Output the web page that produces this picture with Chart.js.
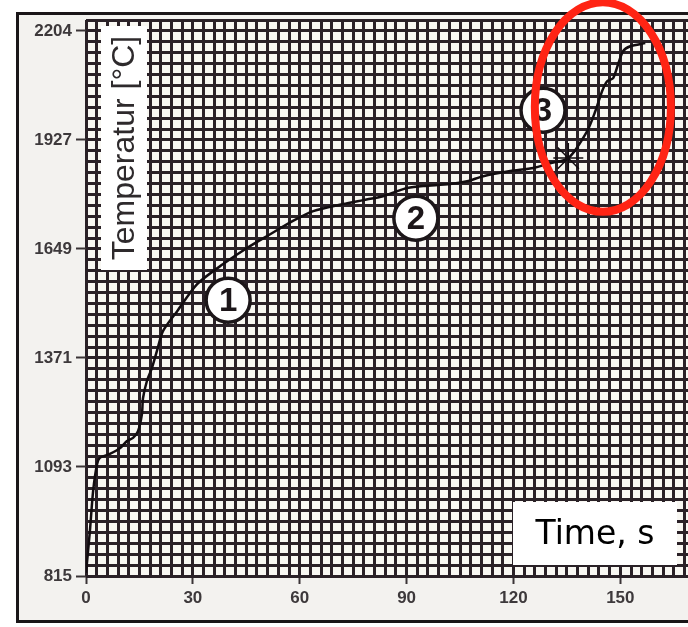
<!DOCTYPE html>
<html>
<head>
<meta charset="utf-8">
<script src="https://cdn.jsdelivr.net/npm/chart.js@4.4.0/dist/chart.umd.min.js"></script>
<style>
    html, body { margin: 0; padding: 0; background: #fff; overflow: hidden; }
    canvas { display: block; }
</style>
</head>
<body>
<canvas id="chart" width="688" height="627"></canvas>
<script>
(function () {
    'use strict';

    // temperature curve (time in s, temperature in °C)
    var timeS = [0, 1.1, 2.0, 3.1, 3.9, 6.7, 9.6, 11.5, 13.2, 14.6, 15.7, 16.0, 17.1, 18.5, 19.9,
        21.6, 25.6, 31.2, 38.5, 45.2, 51.7, 58.1, 63.8, 72.2, 77.8, 83.4, 87.4, 90.2, 94.7,
        102.2, 107.0, 111.5, 119.1, 125.6, 130.3, 135.4, 140.7, 143.0, 144.9, 146.3, 148.0,
        149.4, 150.8, 152.8, 157.0];
    var tempC = [823, 930, 1032, 1100, 1116, 1126, 1141, 1159, 1167, 1184, 1228, 1268, 1312, 1345, 1388,
        1439, 1490, 1559, 1610, 1651, 1686, 1720, 1745, 1763, 1773, 1783, 1796, 1804, 1809,
        1814, 1821, 1834, 1847, 1855, 1867, 1880, 1949, 2000, 2051, 2076, 2084,
        2120, 2153, 2165, 2173];

    // where the hand drawn star crosses the curve
    var starTime = [135.4];
    var starTemp = [1880];

    // numbered stages written on the chart
    var stageLabels = ['1', '2', '3'];
    var stageTime = [39.9, 92.6, 128.3];
    var stageTemp = [1518, 1727, 2002];

    var xTickLabels = [0, 30, 60, 90, 120, 150];
    var yTickLabels = [815, 1093, 1371, 1649, 1927, 2204];

    // graph paper: 10 cells between labelled ticks
    var xMin = 0, xMax = 169, xCell = 3;
    var yMin = 815, yMax = 2232, yCell = (2204 - 815) / 50;

    var ink = '#2a2127';

    function gridTicks(min, max, step) {
        var ticks = [];
        for (var k = 0; min + k * step <= max + 0.01; k++) {
            ticks.push({ value: min + k * step });
        }
        return ticks;
    }

    var paperPlugin = {
        id: 'paper',
        beforeDraw: function (chart) {
            var ctx = chart.ctx;
            var a = chart.chartArea;
            ctx.save();
            ctx.fillStyle = '#ffffff';
            ctx.fillRect(0, 0, chart.width, chart.height);
            ctx.fillStyle = '#f3f2ef';
            ctx.fillRect(17, 13, chart.width, 609);
            ctx.strokeStyle = '#1a1618';
            ctx.lineWidth = 3;
            ctx.beginPath();
            ctx.moveTo(chart.width + 5, 13.5);
            ctx.lineTo(17.5, 13.5);
            ctx.lineTo(17.5, 621.5);
            ctx.lineTo(chart.width + 5, 621.5);
            ctx.stroke();
            ctx.fillStyle = '#f8f7f2';
            ctx.fillRect(a.left, a.top, a.right - a.left, a.bottom - a.top);
            ctx.restore();
        }
    };

    var notesPlugin = {
        id: 'notes',
        afterDatasetsDraw: function (chart) {
            var ctx = chart.ctx;
            var xs = chart.scales.x;
            var ys = chart.scales.y;
            var i, cx, cy;

            ctx.save();

            // axis title box inside the grid
            ctx.fillStyle = '#ffffff';
            ctx.fillRect(101, 26, 46, 244);
            ctx.save();
            ctx.translate(125, 148);
            ctx.rotate(-Math.PI / 2);
            ctx.fillStyle = '#2e2a2c';
            ctx.font = '32px "Liberation Sans", Arial, sans-serif';
            ctx.textAlign = 'center';
            ctx.textBaseline = 'middle';
            ctx.fillText('Temperatur [°C]', 0, 0);
            ctx.restore();

            // x axis title box
            ctx.fillStyle = '#ffffff';
            ctx.fillRect(513, 502, 164, 63);
            ctx.fillStyle = '#000000';
            ctx.font = '33px "DejaVu Sans", Verdana, sans-serif';
            ctx.textAlign = 'center';
            ctx.textBaseline = 'middle';
            ctx.fillText('Time, s', 595, 535);

            // circled stage numbers
            for (i = 0; i < stageLabels.length; i++) {
                cx = xs.getPixelForValue(stageTime[i]);
                cy = ys.getPixelForValue(stageTemp[i]);
                ctx.beginPath();
                ctx.arc(cx, cy, 22, 0, Math.PI * 2);
                ctx.fillStyle = '#ffffff';
                ctx.fill();
                ctx.lineWidth = 3.5;
                ctx.strokeStyle = '#1c1619';
                ctx.stroke();
                ctx.fillStyle = '#1c1619';
                ctx.font = 'bold 33px "Liberation Sans", Arial, sans-serif';
                ctx.fillText(stageLabels[i], cx, cy + 2);
            }

            // red ring around the last rise
            cx = xs.getPixelForValue(145.1);
            cy = ys.getPixelForValue(2010);
            ctx.beginPath();
            ctx.ellipse(cx, cy, xs.getPixelForValue(19.1) - xs.getPixelForValue(0),
                ys.getPixelForValue(815) - ys.getPixelForValue(815 + 267), 0, 0, Math.PI * 2);
            ctx.lineWidth = 8;
            ctx.strokeStyle = '#ff2414';
            ctx.stroke();

            ctx.restore();
        }
    };

    new Chart(document.getElementById('chart'), { //eslint-disable-line
        type: 'line',
        data: {
            datasets: [{
                data: timeS.map(function (t, i) { return { x: t, y: tempC[i] }; }),
                borderColor: '#120c10',
                borderWidth: 2.5,
                pointRadius: 0,
                tension: 0.25,
                fill: false
            }, {
                data: starTime.map(function (t, i) { return { x: t, y: starTemp[i] }; }),
                showLine: false,
                pointStyle: 'star',
                pointRadius: 15,
                borderColor: '#120c10',
                borderWidth: 1.5,
                backgroundColor: 'transparent'
            }]
        },
        options: {
            responsive: false,
            animation: false,
            layout: { autoPadding: false, padding: { top: 20, right: 0, bottom: 0, left: 0 } },
            plugins: {
                legend: { display: false },
                tooltip: { enabled: false }
            },
            scales: {
                x: {
                    type: 'linear',
                    min: xMin,
                    max: xMax,
                    afterBuildTicks: function (axis) { axis.ticks = gridTicks(xMin, xMax, xCell); },
                    afterFit: function (axis) {
                        axis.height = 51;
                        axis.paddingLeft = 0;
                        axis.paddingRight = 0;
                    },
                    border: { display: false },
                    grid: {
                        color: ink,
                        lineWidth: 3,
                        tickLength: 8,
                        tickWidth: 2,
                        tickColor: function (c) { return c.index % 10 === 0 ? '#3a3436' : 'transparent'; }
                    },
                    ticks: {
                        autoSkip: false,
                        maxRotation: 0,
                        padding: 4,
                        color: '#3d393b',
                        font: { family: '"Liberation Sans", Arial, sans-serif', size: 17, weight: 'bold' },
                        callback: function (v, index) {
                            return index % 10 === 0 ? String(xTickLabels[index / 10]) : '';
                        }
                    }
                },
                y: {
                    type: 'linear',
                    min: yMin,
                    max: yMax,
                    afterBuildTicks: function (axis) { axis.ticks = gridTicks(yMin, yMax, yCell); },
                    afterFit: function (axis) {
                        axis.width = 86;
                        axis.paddingTop = 0;
                        axis.paddingBottom = 0;
                    },
                    border: { display: false },
                    grid: {
                        color: ink,
                        lineWidth: 3,
                        tickLength: 10,
                        tickWidth: 2,
                        tickColor: function (c) { return c.index % 10 === 0 ? '#3a3436' : 'transparent'; }
                    },
                    ticks: {
                        autoSkip: false,
                        padding: 4,
                        color: '#3d393b',
                        font: { family: '"Liberation Sans", Arial, sans-serif', size: 17, weight: 'bold' },
                        callback: function (v, index) {
                            return index % 10 === 0 ? String(yTickLabels[index / 10]) : '';
                        }
                    }
                }
            }
        },
        plugins: [paperPlugin, notesPlugin]
    });
}());
</script>
</body>
</html>
